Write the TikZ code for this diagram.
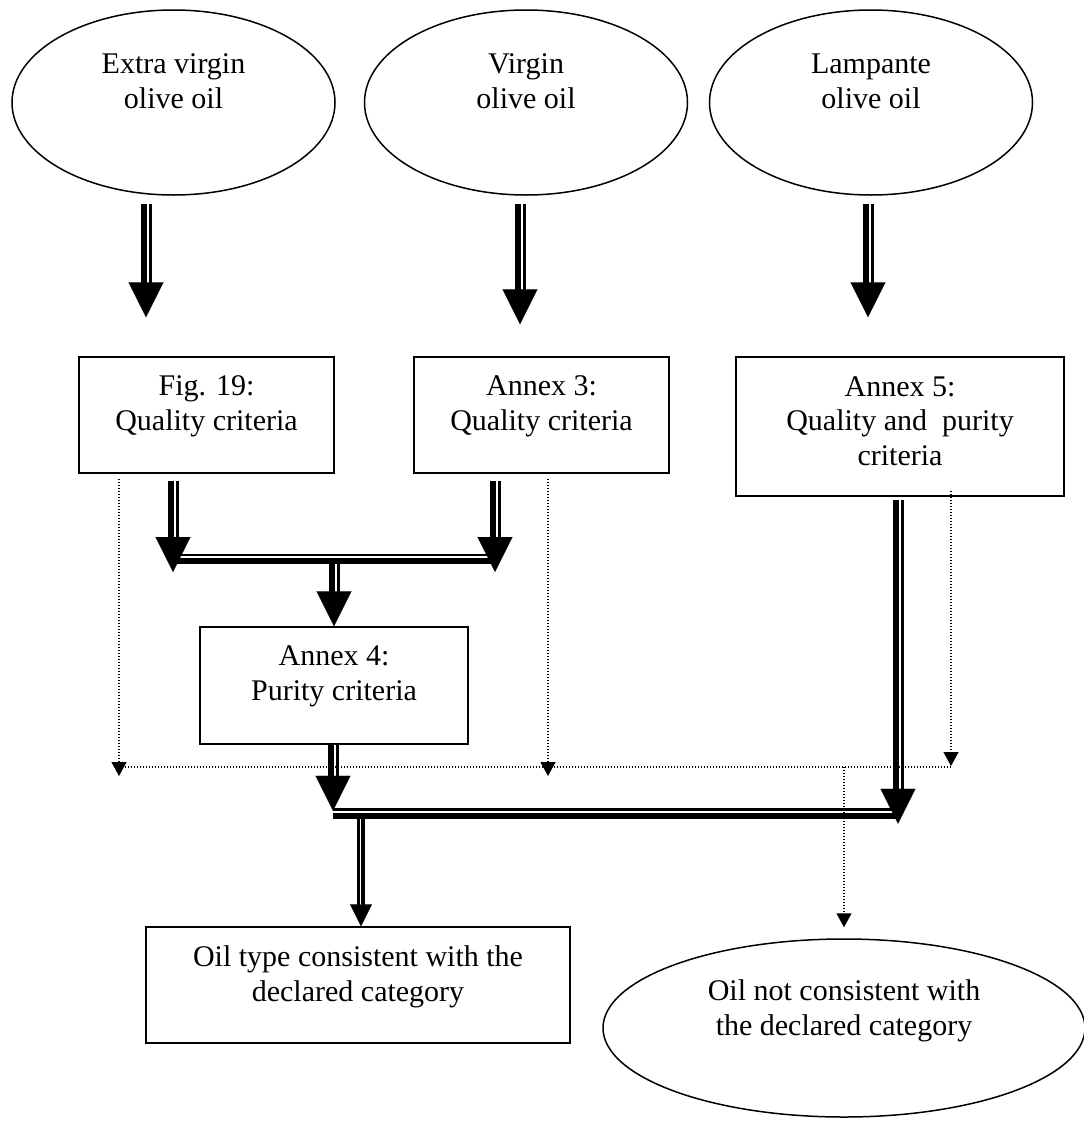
\documentclass[tikz,border=0pt]{standalone}
\usepackage{fontspec}
\setmainfont{Liberation Serif}
\usetikzlibrary{arrows.meta,calc,shapes.geometric}
\newcommand\dblarr[2]{%
  \draw[thickln] ([xshift=-2pt]#1) -- ([xshift=-2pt]#2);
  \draw[thinln] ([xshift=4.5pt]#1) -- ([xshift=4.5pt]#2);
  \draw[arrhead] (#1) -- (#2);}
\begin{document}
\begin{tikzpicture}[x=1pt,y=-1pt,
  oval/.style={draw, shape=ellipse, line width=1.5pt, inner sep=0pt},
  rbox/.style={draw, rectangle, line width=1.5pt, inner sep=0pt},
  txt/.style={font=\fontsize{30}{34.5}\selectfont, align=center, anchor=base, inner sep=0pt},
  thickln/.style={line width=6.5pt, shorten >=30pt},
  thinln/.style={line width=2.5pt, shorten >=30pt},
  arrhead/.style={line width=0.1pt, -{Triangle[width=35pt,length=35pt]}},
  dotln/.style={line width=1.2pt, dash pattern=on 1.2pt off 1.8pt},
  dothead/.style={dotln, -{Triangle[width=15pt,length=14pt]}},
  smallhead/.style={line width=0.1pt, -{Triangle[width=22pt,length=22pt]}}
]
\useasboundingbox (0,0) rectangle (1084,1122);

% ellipses
\node[oval, minimum width=323pt, minimum height=185pt] (e1) at (173.5,102.5) {};
\node[oval, minimum width=323pt, minimum height=185pt] (e2) at (526,102.5) {};
\node[oval, minimum width=323pt, minimum height=185pt] (e3) at (871,102.5) {};
\node[txt] (e1t) at (173.5,108) {Extra virgin\\olive oil};
\node[txt] (e2t) at (526,108) {Virgin\\olive oil};
\node[txt] (e3t) at (871,108) {Lampante\\olive oil};

% boxes
\node[rbox, minimum width=255pt, minimum height=116pt] (b1) at (206.5,415) {};
\node[rbox, minimum width=255pt, minimum height=116pt] (b2) at (541.5,415) {};
\node[rbox, minimum width=328pt, minimum height=139pt] (b3) at (900,426.5) {};
\node[rbox, minimum width=268pt, minimum height=117pt] (b4) at (334,685.5) {};
\node[rbox, minimum width=424pt, minimum height=116pt] (b5) at (358,985) {};
\node[oval, minimum width=482pt, minimum height=178pt] (e4) at (844,1028) {};

\node[txt] (b1t) at (206.5,430) {Fig. 19:\\Quality criteria};
\node[txt] (b2t) at (541.5,430) {Annex 3:\\Quality criteria};
\node[txt] (b3t) at (900,465) {Annex 5:\\Quality and\ \ purity\\criteria};
\node[txt] (b4t) at (334,700) {Annex 4:\\Purity criteria};
\node[txt] (b5t) at (358,1001) {Oil type consistent with the\\declared category};
\node[txt] (e4t) at (844,1035) {Oil not consistent with\\the declared category};

% coordinates for connectors
\coordinate (a1s) at ($(e1.south)+(-27.5,8)$);
\coordinate (a1e) at ($(b1.north)+(-60.5,-39)$);
\coordinate (a2s) at ($(e2.south)+(-6,8)$);
\coordinate (a2e) at ($(b2.north)+(-21.5,-32)$);
\coordinate (a3s) at ($(e3.south)+(-3,8)$);
\coordinate (a3e) at ($(b3.north)+(-32,-39)$);

\coordinate (j1s) at ($(b1.south)+(-33.5,7)$);
\coordinate (j1e) at (j1s |- 0,572);
\coordinate (j2s) at ($(b2.south)+(-46.5,7)$);
\coordinate (j2e) at (j2s |- 0,572);
\coordinate (jc) at ($(j1e)!0.5!(j2e)+(0,-11)$);
\coordinate (cs) at (b4.north |- jc);

\coordinate (k1s) at ($(b4.south)+(-1,0)$);
\coordinate (k1e) at ($(k1s)+(0,66)$);
\coordinate (k2s) at ($(b3.south)+(-2,3)$);
\coordinate (k2e) at (k2s |- k1e);
\coordinate (k2e) at ($(k2e)+(0,13)$);
\coordinate (ds) at ($(b5.north)+(3,-109)$);

% double arrows
\dblarr{a1s}{a1e}
\dblarr{a2s}{a2e}
\dblarr{a3s}{a3e}
\dblarr{j1s}{j1e}
\dblarr{j2s}{j2e}
\draw[line width=6.5pt] (j1e |- jc) -- (j2e |- jc);
\draw[line width=2.5pt] ($(j1e |- jc)+(0,-6)$) -- ($(j2e |- jc)+(0,-6)$);
\dblarr{cs}{b4.north}
\dblarr{k1s}{k1e}
\dblarr{k2s}{k2e}
\draw[line width=6.5pt] ($(k1e)+(0,5)$) -- ($(k2e |- k1e)+(0,5)$);
\draw[line width=2.5pt] ($(k1e)+(0,-1.5)$) -- ($(k2e |- k1e)+(-5,-1.5)$);
% thin double arrow to bottom box
\draw[line width=2.5pt, shorten >=20pt] ($(ds)+(-2.3,0)$) -- ($(b5.north)+(0.7,0)$);
\draw[line width=2.5pt, shorten >=20pt] ($(ds)+(2.3,0)$) -- ($(b5.north)+(5.3,0)$);
\draw[smallhead] (ds) -- ($(b5.north)+(3,0)$);

% dotted connectors
\coordinate (d1s) at ($(b1.south)+(-87.5,5)$);
\coordinate (d1e) at (d1s |- 0,776);
\coordinate (d2s) at ($(b2.south)+(6.5,5)$);
\coordinate (d2e) at (d2s |- 0,776);
\coordinate (d3s) at ($(b3.south)+(51,-6)$);
\coordinate (d3e) at (d3s |- 0,766);
\coordinate (hl) at (d1s |- 0,767);
\coordinate (hr) at (d3s |- 0,767);
\coordinate (d4s) at (e4.north |- hl);
\coordinate (d4e) at ($(e4.north)+(0,-11)$);
\draw[dothead] (d1s) -- (d1e);
\draw[dothead] (d2s) -- (d2e);
\draw[dothead] (d3s) -- (d3e);
\draw[dotln] (hl) -- (hr);
\draw[dothead] (d4s) -- (d4e);
\end{tikzpicture}
\end{document}
